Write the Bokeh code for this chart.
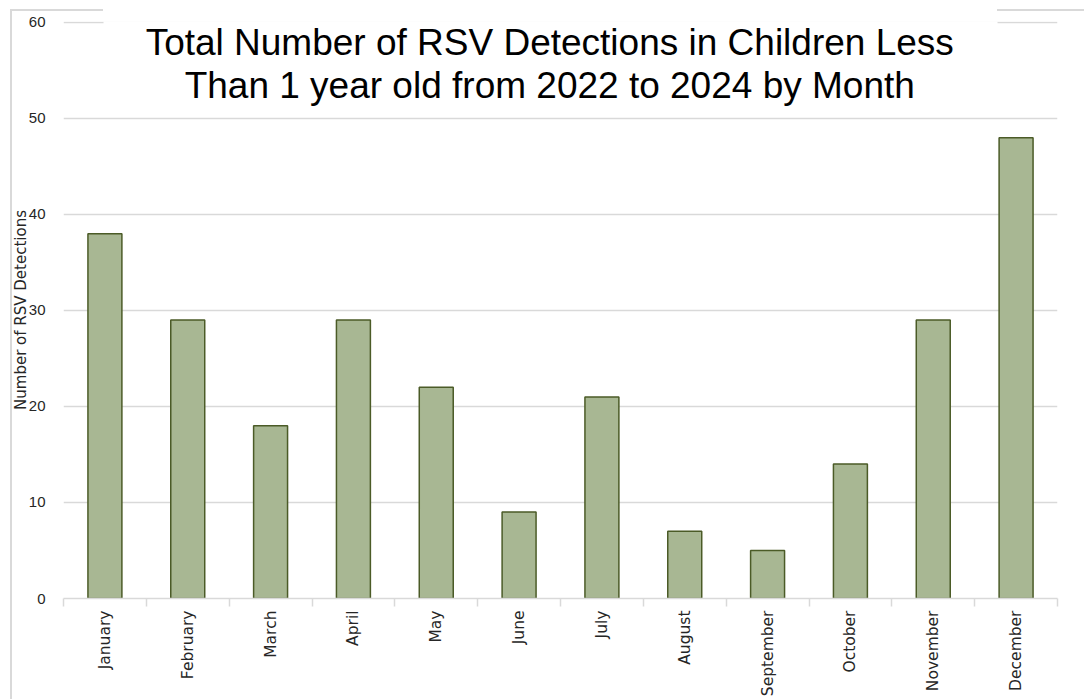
import math
from bokeh.plotting import figure
from bokeh.models import Range1d, FixedTicker, BoxAnnotation, Label
from bokeh.embed import file_html
from bokeh.resources import INLINE

months = ["January", "February", "March", "April", "May", "June", "July",
          "August", "September", "October", "November", "December"]
detections = [38, 29, 18, 29, 22, 9, 21, 7, 5, 14, 29, 48]
y_ticks = [0, 10, 20, 30, 40, 50, 60]
title_lines = ["Total Number of RSV Detections in Children Less",
               "Than 1 year old from 2022 to 2024 by Month"]
y_label = "Number of RSV Detections"

FONT = "Liberation Sans"
SMALL_FONT = "DejaVu Sans"
GRID = "#d9d9d9"

x_pos = [i + 0.5 for i in range(len(months))]

p = figure(width=1084, height=699, x_range=Range1d(0, len(months)),
           y_range=Range1d(0, 60.1), output_backend="svg", toolbar_location=None,
           min_border_left=63, min_border_right=27, min_border_top=21,
           min_border_bottom=101)
p.outline_line_color = None
p.background_fill_color = "white"
p.border_fill_color = None

# outer chart border (top and left), drawn as the page background behind the canvas
p.styles = {
    "background-color": "white",
    "background-image": ("linear-gradient(#d9d9d9, #d9d9d9), "
                         "linear-gradient(#d9d9d9, #d9d9d9), "
                         "linear-gradient(#d9d9d9, #d9d9d9)"),
    "background-size": "93px 2px, 90px 2px, 2px 700px",
    "background-position": "10px 9px, 997px 9px, 10px 9px",
    "background-repeat": "no-repeat",
}

p.vbar(x=x_pos, top=detections, width=0.41, bottom=0,
       fill_color="#a8b793", line_color="#4b5b27", line_width=1.5)

# y axis
p.yaxis.ticker = FixedTicker(ticks=y_ticks)
p.yaxis.axis_line_color = None
p.yaxis.major_tick_line_color = None
p.yaxis.minor_tick_line_color = None
p.yaxis.major_label_text_font = FONT
p.yaxis.major_label_text_font_size = "15px"
p.yaxis.major_label_text_color = "#262626"
p.yaxis.major_label_standoff = 12
p.yaxis.axis_label = y_label
p.yaxis.axis_label_text_font = SMALL_FONT
p.yaxis.axis_label_text_font_size = "15px"
p.yaxis.axis_label_text_font_style = "normal"
p.yaxis.axis_label_text_color = "#262626"
p.yaxis.axis_label_standoff = -4
p.ygrid.grid_line_color = GRID
p.ygrid.grid_line_width = 1.5

# x axis
p.xaxis.ticker = FixedTicker(ticks=x_pos, minor_ticks=list(range(len(months) + 1)))
p.xaxis.major_label_overrides = {x: m for x, m in zip(x_pos, months)}
p.xaxis.major_label_orientation = math.pi / 2
p.xaxis.major_tick_line_color = None
p.xaxis.major_tick_out = 0
p.xaxis.major_tick_in = 0
p.xaxis.minor_tick_line_color = GRID
p.xaxis.minor_tick_out = 8
p.xaxis.minor_tick_in = 0
p.xaxis.minor_tick_line_width = 1.5
p.xaxis.axis_line_color = GRID
p.xaxis.axis_line_width = 1.5
p.xaxis.major_label_text_font = SMALL_FONT
p.xaxis.major_label_text_font_size = "15.5px"
p.xaxis.major_label_text_color = "#262626"
p.xaxis.major_label_standoff = 4
p.xgrid.grid_line_color = None

# title background (hides the top gridline behind the title)
p.add_layout(BoxAnnotation(left=0.483, right=11.276, bottom=50.7, top=64,
                           fill_color="white", fill_alpha=1, line_color=None))

p.add_layout(Label(x=5.87, y=57.95, text=title_lines[0], text_align="center",
                   text_baseline="alphabetic", text_font=FONT,
                   text_font_size="37px", text_color="black"))
p.add_layout(Label(x=5.87, y=53.4, text=title_lines[1], text_align="center",
                   text_baseline="alphabetic", text_font=FONT,
                   text_font_size="37px", text_color="black"))

open("out.html", "w").write(file_html(p, INLINE))
